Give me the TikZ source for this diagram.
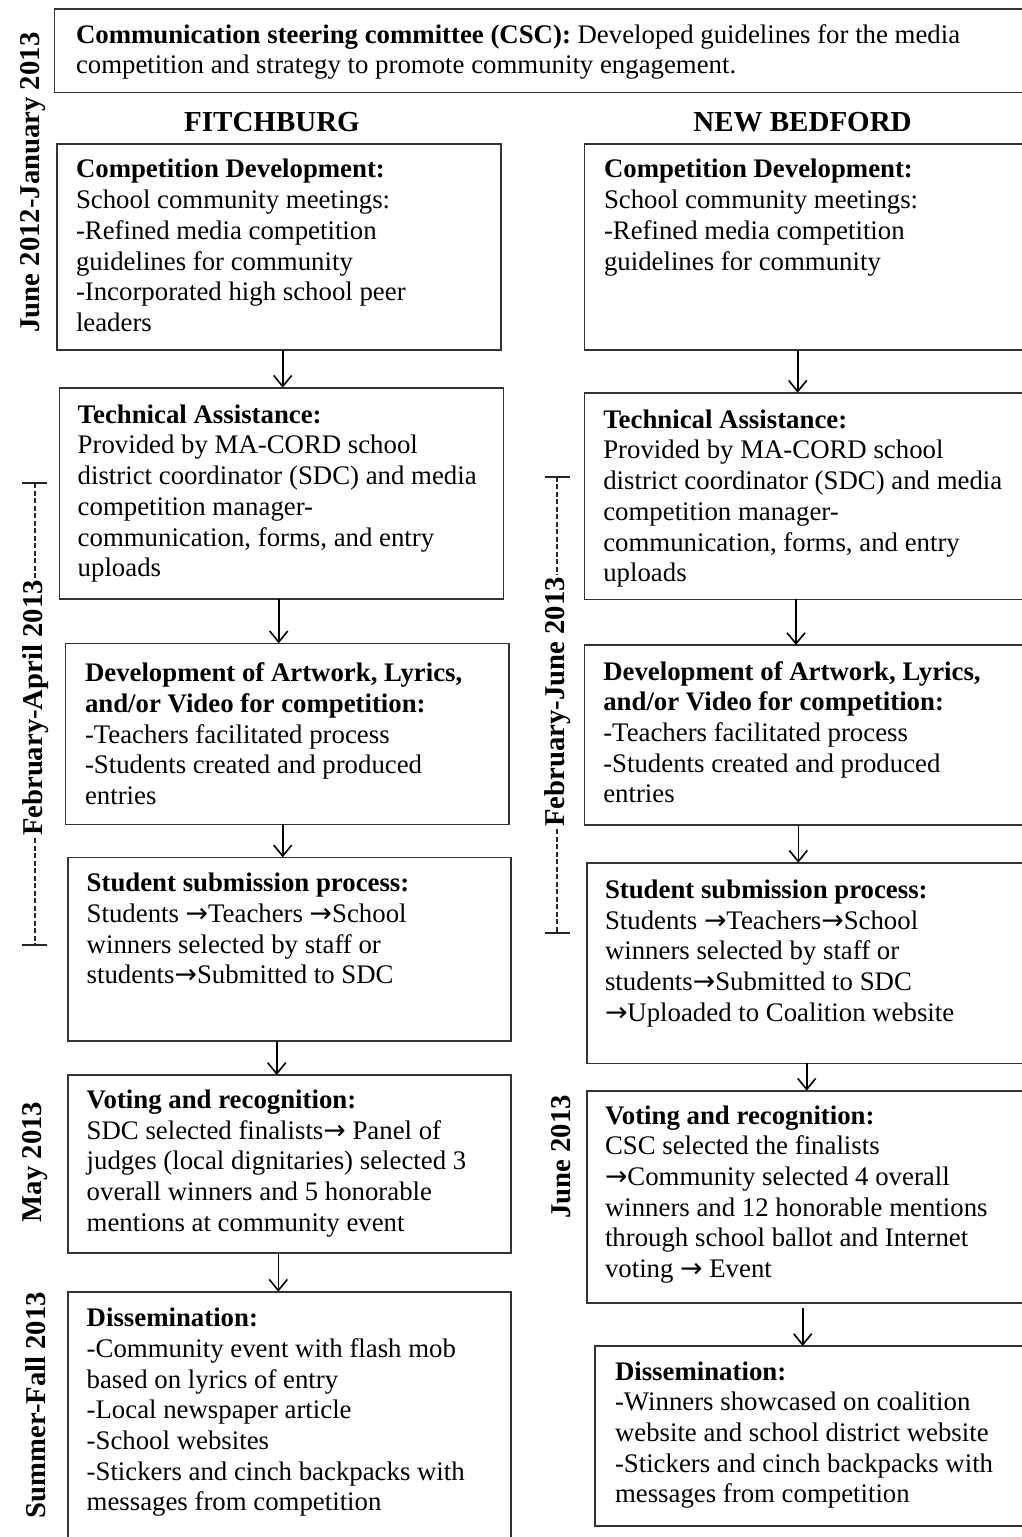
\documentclass[tikz,border=0pt]{standalone}
\usepackage{fontspec}
\setmainfont{Liberation Serif}
\newfontfamily\myarrowfont{DejaVu Sans}
\newcommand\rarr{{\myarrowfont →}}
\usetikzlibrary{arrows.meta}
\newcommand\mybodyfont{\fontsize{26.8}{30.7}\selectfont}
\newcommand\myheadfont{\fontsize{29}{34}\selectfont\bfseries}
\newcommand\mysidefont{\fontsize{28.7}{34}\selectfont\bfseries}
\tikzset{
  box/.style={draw=black!80, line width=1.6pt, inner sep=0pt, outer sep=0pt, anchor=north west},
  txt/.style={inner sep=0pt, outer sep=0pt, anchor=north west, align=left, font=\mybodyfont},
  head/.style={inner sep=0pt, anchor=base, font=\myheadfont},
  side/.style={inner sep=0pt, rotate=90, anchor=base, font=\mysidefont},
  arr/.style={-{Straight Barb[length=11pt,width=18pt,line width=1.6pt]}, line width=1.6pt, black},
  tickline/.style={line width=1.8pt, black!85},
  dashline/.style={line width=1.8pt, black!85, dash pattern=on 5pt off 2.5pt},
}
\begin{document}
\begin{tikzpicture}[x=1pt,y=-1pt]
\useasboundingbox (0,0) rectangle (1022,1537);
\clip (0,0) rectangle (1022,1537);

% top box
\node[box, minimum width=990, minimum height=83.3] (csc) at (54.3,9) {};
\node[txt] (csct) at (76,43.3-21.5) {\strut\textbf{Communication steering committee (CSC):} Developed guidelines for the media\\competition and strategy to promote community engagement.};

% headings
\node[head] (fh) at (272,131.7) {FITCHBURG};
\node[head] (nh) at (802.5,131.7) {NEW BEDFORD};

% Fitchburg boxes
\node[box, minimum width=444, minimum height=206] (f1) at (56.7,144) {};
\node[box, minimum width=444, minimum height=211.3] (f2) at (59.3,387.7) {};
\node[box, minimum width=443.7, minimum height=181] (f3) at (65.3,643.3) {};
\node[box, minimum width=443, minimum height=183.7] (f4) at (67.7,857.3) {};
\node[box, minimum width=443, minimum height=177.7] (f5) at (67.7,1075) {};
\node[box, minimum width=443, minimum height=270] (f6) at (67.7,1291.7) {};

% New Bedford boxes
\node[box, minimum width=460, minimum height=206] (n1) at (584.3,144) {};
\node[box, minimum width=460, minimum height=206.6] (n2) at (584.3,392.7) {};
\node[box, minimum width=460, minimum height=180] (n3) at (584.3,645) {};
\node[box, minimum width=460, minimum height=200.6] (n4) at (586.7,862.7) {};
\node[box, minimum width=460, minimum height=212] (n5) at (586.7,1090.7) {};
\node[box, minimum width=460, minimum height=180] (n6) at (595,1346) {};

% Fitchburg texts
\node[txt] (ft1) at (76,178-21.5) {\strut\textbf{Competition Development:}\\School community meetings:\\-Refined media competition\\guidelines for community\\-Incorporated high school peer\\leaders};
\node[txt] (ft2) at (77.7,423.3-21.5) {\strut\textbf{Technical Assistance:}\\Provided by MA-CORD school\\district coordinator (SDC) and media\\competition manager-\\communication, forms, and entry\\uploads};
\node[txt] (ft3) at (85,681.7-21.5) {\strut\textbf{Development of Artwork, Lyrics,}\\\textbf{and/or Video for competition:}\\-Teachers facilitated process\\-Students created and produced\\entries};
\node[txt] (ft4) at (86.7,891.7-21.5) {\strut\textbf{Student submission process:}\\Students \rarr Teachers \rarr School\\winners selected by staff or\\students\rarr Submitted to SDC};
\node[txt] (ft5) at (86.7,1108.3-21.5) {\strut\textbf{Voting and recognition:}\\SDC selected finalists\rarr{} Panel of\\judges (local dignitaries) selected 3\\overall winners and 5 honorable\\mentions at community event};
\node[txt] (ft6) at (86.7,1326.7-21.5) {\strut\textbf{Dissemination:}\\-Community event with flash mob\\based on lyrics of entry\\-Local newspaper article\\-School websites\\-Stickers and cinch backpacks with\\messages from competition};

% New Bedford texts
\node[txt] (nt1) at (604,178-21.5) {\strut\textbf{Competition Development:}\\School community meetings:\\-Refined media competition\\guidelines for community};
\node[txt] (nt2) at (603.3,428.3-21.5) {\strut\textbf{Technical Assistance:}\\Provided by MA-CORD school\\district coordinator (SDC) and media\\competition manager-\\communication, forms, and entry\\uploads};
\node[txt] (nt3) at (603.3,680-21.5) {\strut\textbf{Development of Artwork, Lyrics,}\\\textbf{and/or Video for competition:}\\-Teachers facilitated process\\-Students created and produced\\entries};
\node[txt] (nt4) at (605,898.3-21.5) {\strut\textbf{Student submission process:}\\Students \rarr Teachers\rarr School\\winners selected by staff or\\students\rarr Submitted to SDC\\\rarr Uploaded to Coalition website};
\node[txt] (nt5) at (605,1124-21.5) {\strut\textbf{Voting and recognition:}\\CSC selected the finalists\\\rarr Community selected 4 overall\\winners and 12 honorable mentions\\through school ballot and Internet\\voting \rarr{} Event};
\node[txt] (nt6) at (615,1380-21.5) {\strut\textbf{Dissemination:}\\-Winners showcased on coalition\\website and school district website\\-Stickers and cinch backpacks with\\messages from competition};

% arrow x positions
\coordinate (fa1) at (282.7,0);
\coordinate (fa2) at (278.7,0);
\coordinate (fa3) at (282.7,0);
\coordinate (fa4) at (276.7,0);
\coordinate (fa5) at (278.3,0);
\coordinate (na1) at (797.7,0);
\coordinate (na2) at (796,0);
\coordinate (na3) at (798.3,0);
\coordinate (na4) at (806.7,0);
\coordinate (na5s) at (802.7,1308);

\draw[arr] (f1.south -| fa1) -- (f2.north -| fa1);
\draw[arr] (f2.south -| fa2) -- (f3.north -| fa2);
\draw[arr] (f3.south -| fa3) -- (f4.north -| fa3);
\draw[arr] (f4.south -| fa4) -- (f5.north -| fa4);
\draw[arr] (f5.south -| fa5) -- (f6.north -| fa5);
\draw[arr] (n1.south -| na1) -- (n2.north -| na1);
\draw[arr] (n2.south -| na2) -- (n3.north -| na2);
\draw[arr] (n3.south -| na3) -- (n4.north -| na3);
\draw[arr] (n4.south -| na4) -- (n5.north -| na4);
\draw[arr] (na5s) -- (n6.north -| na5s);

% side labels, Fitchburg
\node[side] (d1) at (39,182.5) {June 2012-January 2013};
\node[side] (d2) at (42,708) {February-April 2013};
\node[side] (d3) at (41,1162) {May 2013};
\node[side] (d4) at (45,1405) {Summer-Fall 2013};
\coordinate (d2top) at (35,483.3);
\coordinate (d2bot) at (35,945);
\draw[tickline] (22,483.3) -- (47,483.3);
\draw[tickline] (22,945) -- (47,945);
\draw[dashline] (d2top) -- (35,578);
\draw[dashline] (35,838) -- (d2bot);

% side labels, New Bedford
\node[side] (e2) at (564,702) {February-June 2013};
\node[side] (e3) at (570,1157) {June 2013};
\coordinate (e2top) at (557.3,476.7);
\coordinate (e2bot) at (557.3,932.7);
\draw[tickline] (544.5,476.7) -- (569.5,476.7);
\draw[tickline] (544.5,932.7) -- (569.5,932.7);
\draw[dashline] (e2top) -- (557.3,575);
\draw[dashline] (557.3,829) -- (e2bot);
\end{tikzpicture}
\end{document}
